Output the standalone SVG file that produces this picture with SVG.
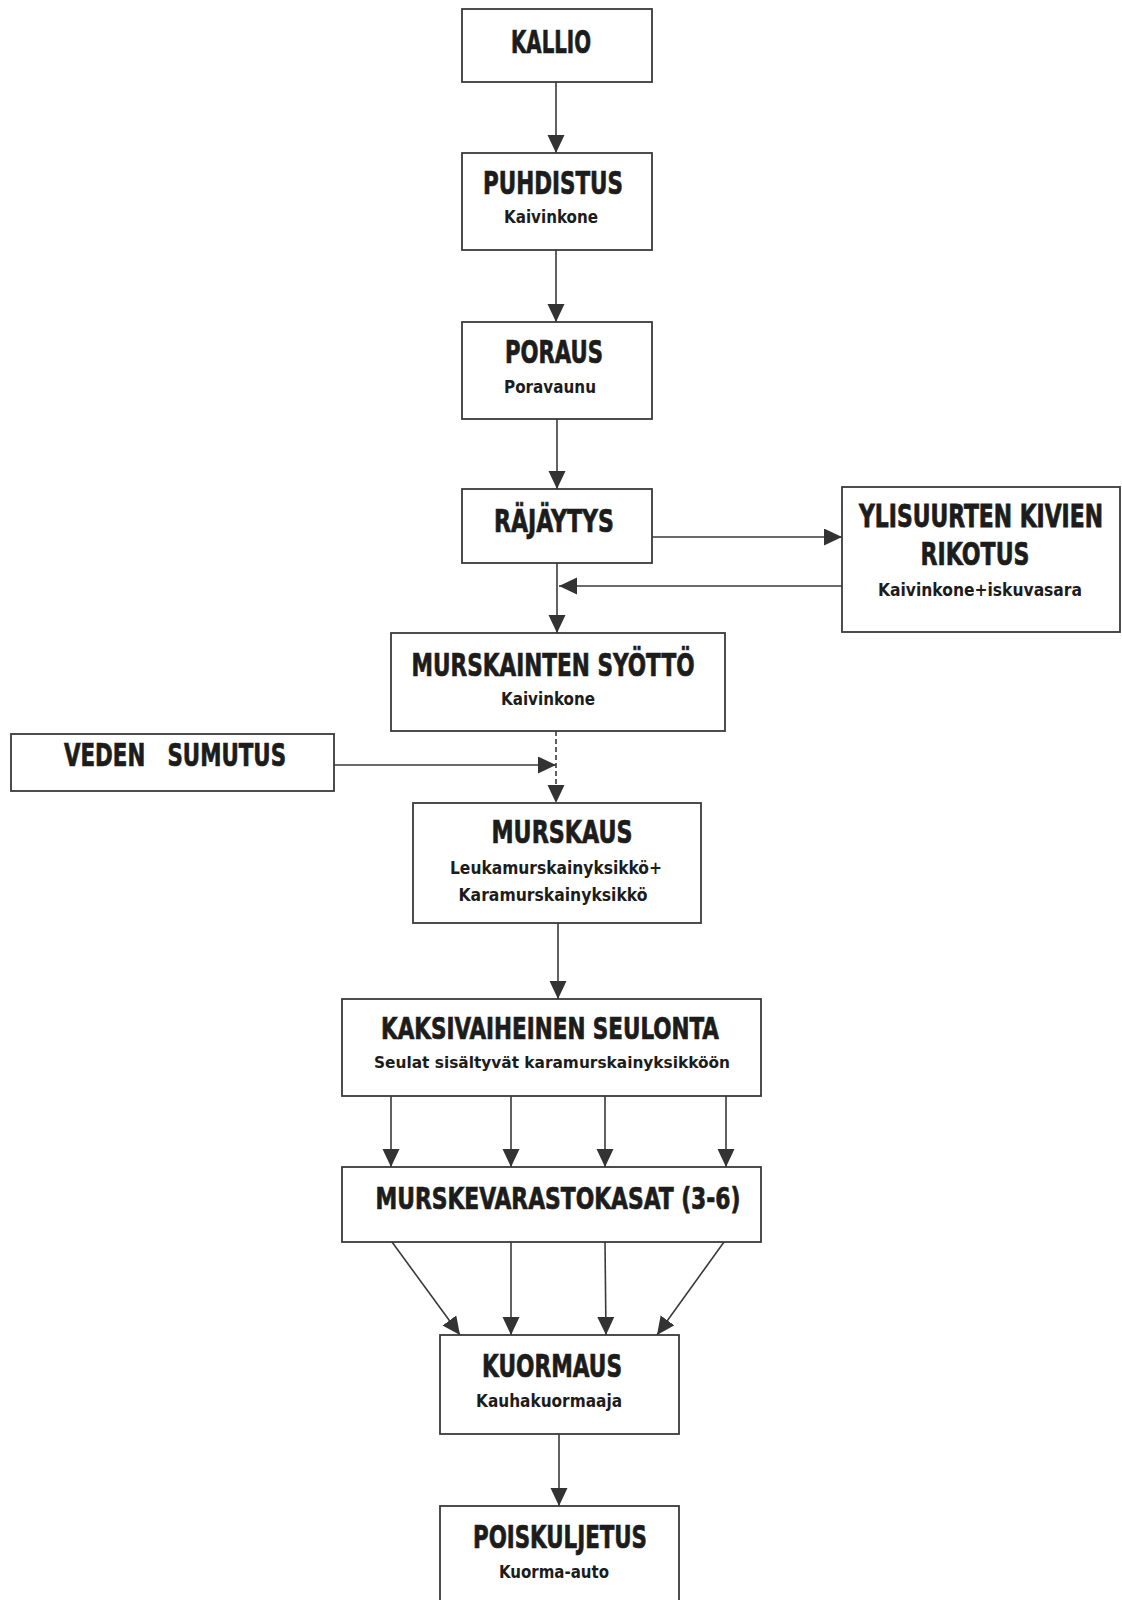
<svg xmlns="http://www.w3.org/2000/svg" width="1122" height="1600" viewBox="0 0 1122 1600">
<defs>
<style>
.box{fill:#fff;stroke:#3a3a3a;stroke-width:1.8}
.t{font-family:"Liberation Sans Narrow","DejaVu Sans Condensed","Liberation Sans",sans-serif;font-weight:bold;fill:#1c1c1c;text-anchor:middle}
.h{font-size:32px;stroke:#1c1c1c;stroke-width:0.7}
.h2{font-size:30px;stroke:#1c1c1c;stroke-width:0.7}
.h3{font-size:22px;stroke:#1c1c1c;stroke-width:0.55}
.c{font-size:18px}
.c2{font-size:16.5px}
.ln{fill:none;stroke:#3a3a3a;stroke-width:1.6}
</style>
<marker id="ah" markerUnits="userSpaceOnUse" markerWidth="19" markerHeight="18" refX="18" refY="8.5" orient="auto" viewBox="0 0 19 18">
<path d="M0,0 L18,8.5 L0,17 z" fill="#333"/>
</marker>
</defs>
<rect width="1122" height="1600" fill="#fff"/>
<g id="connectors">
<line class="ln" x1="556" y1="82" x2="556" y2="153" marker-end="url(#ah)"/>
<line class="ln" x1="556" y1="250" x2="556" y2="322" marker-end="url(#ah)"/>
<line class="ln" x1="557" y1="419" x2="557" y2="489" marker-end="url(#ah)"/>
<line class="ln" x1="652" y1="537" x2="842" y2="537" marker-end="url(#ah)"/>
<line class="ln" x1="842" y1="586" x2="559" y2="586" marker-end="url(#ah)"/>
<line class="ln" x1="557" y1="563" x2="557" y2="633" marker-end="url(#ah)"/>
<line class="ln" x1="556" y1="731" x2="556" y2="803" stroke-dasharray="5 3" marker-end="url(#ah)"/>
<line class="ln" x1="334" y1="765" x2="556" y2="765" marker-end="url(#ah)"/>
<line class="ln" x1="558" y1="923" x2="558" y2="999" marker-end="url(#ah)"/>
<line class="ln" x1="391" y1="1096" x2="391" y2="1167" marker-end="url(#ah)"/>
<line class="ln" x1="511" y1="1096" x2="511" y2="1167" marker-end="url(#ah)"/>
<line class="ln" x1="605" y1="1096" x2="605" y2="1167" marker-end="url(#ah)"/>
<line class="ln" x1="726" y1="1096" x2="726" y2="1167" marker-end="url(#ah)"/>
<line class="ln" x1="392" y1="1242" x2="460" y2="1335" marker-end="url(#ah)"/>
<line class="ln" x1="511" y1="1242" x2="511" y2="1335" marker-end="url(#ah)"/>
<line class="ln" x1="605" y1="1242" x2="606" y2="1335" marker-end="url(#ah)"/>
<line class="ln" x1="724" y1="1242" x2="657" y2="1335" marker-end="url(#ah)"/>
<line class="ln" x1="559" y1="1434" x2="559" y2="1506" marker-end="url(#ah)"/>
</g>
<g id="kallio">
<rect class="box" x="462" y="9" width="190" height="73"/>
<text class="t h" x="551" y="53" textLength="80" lengthAdjust="spacingAndGlyphs">KALLIO</text>
</g>
<g id="puhdistus">
<rect class="box" x="462" y="153" width="190" height="97"/>
<text class="t h" x="553" y="194" textLength="140" lengthAdjust="spacingAndGlyphs">PUHDISTUS</text>
<text class="t c" x="551" y="223" textLength="94" lengthAdjust="spacingAndGlyphs">Kaivinkone</text>
</g>
<g id="poraus">
<rect class="box" x="462" y="322" width="190" height="97"/>
<text class="t h" x="554" y="363" textLength="98" lengthAdjust="spacingAndGlyphs">PORAUS</text>
<text class="t c" x="550" y="393" textLength="92" lengthAdjust="spacingAndGlyphs">Poravaunu</text>
</g>
<g id="rajaytys">
<rect class="box" x="462" y="489" width="190" height="74"/>
<text class="t h" x="554" y="532" textLength="120" lengthAdjust="spacingAndGlyphs">RÄJÄYTYS</text>
</g>
<g id="ylisuurten">
<rect class="box" x="842" y="487" width="278" height="145"/>
<text class="t h3" transform="scale(1,1.45)" x="981" y="363.4" textLength="244" lengthAdjust="spacingAndGlyphs">YLISUURTEN KIVIEN</text>
<text class="t h" x="975" y="565" textLength="109" lengthAdjust="spacingAndGlyphs">RIKOTUS</text>
<text class="t c" x="980" y="596" textLength="204" lengthAdjust="spacingAndGlyphs">Kaivinkone+iskuvasara</text>
</g>
<g id="syotto">
<rect class="box" x="391" y="633" width="334" height="98"/>
<text class="t h" x="553" y="676" textLength="283" lengthAdjust="spacingAndGlyphs">MURSKAINTEN SYÖTTÖ</text>
<text class="t c" x="548" y="705" textLength="94" lengthAdjust="spacingAndGlyphs">Kaivinkone</text>
</g>
<g id="veden">
<rect class="box" x="11" y="734" width="323" height="57"/>
<text class="t h" x="175" y="766" textLength="222" lengthAdjust="spacingAndGlyphs" xml:space="preserve">VEDEN   SUMUTUS</text>
</g>
<g id="murskaus">
<rect class="box" x="413" y="803" width="288" height="120"/>
<text class="t h" x="562" y="843" textLength="141" lengthAdjust="spacingAndGlyphs">MURSKAUS</text>
<text class="t c" x="556" y="874" textLength="212" lengthAdjust="spacingAndGlyphs">Leukamurskainyksikkö+</text>
<text class="t c" x="553" y="901" textLength="189" lengthAdjust="spacingAndGlyphs">Karamurskainyksikkö</text>
</g>
<g id="seulonta">
<rect class="box" x="342" y="999" width="419" height="97"/>
<text class="t h2" x="550" y="1039" textLength="338" lengthAdjust="spacingAndGlyphs">KAKSIVAIHEINEN SEULONTA</text>
<text class="t c2" x="552" y="1068" textLength="356" lengthAdjust="spacingAndGlyphs">Seulat sisältyvät karamurskainyksikköön</text>
</g>
<g id="varastokasat">
<rect class="box" x="342" y="1167" width="419" height="75"/>
<text class="t h2" x="558" y="1209" textLength="365" lengthAdjust="spacingAndGlyphs">MURSKEVARASTOKASAT (3-6)</text>
</g>
<g id="kuormaus">
<rect class="box" x="440" y="1335" width="239" height="99"/>
<text class="t h" x="552" y="1377" textLength="140" lengthAdjust="spacingAndGlyphs">KUORMAUS</text>
<text class="t c" x="549" y="1407" textLength="146" lengthAdjust="spacingAndGlyphs">Kauhakuormaaja</text>
</g>
<g id="poiskuljetus">
<rect class="box" x="440" y="1506" width="239" height="100"/>
<text class="t h" x="560" y="1548" textLength="174" lengthAdjust="spacingAndGlyphs">POISKULJETUS</text>
<text class="t c" x="554" y="1578" textLength="110" lengthAdjust="spacingAndGlyphs">Kuorma-auto</text>
</g>
</svg>
